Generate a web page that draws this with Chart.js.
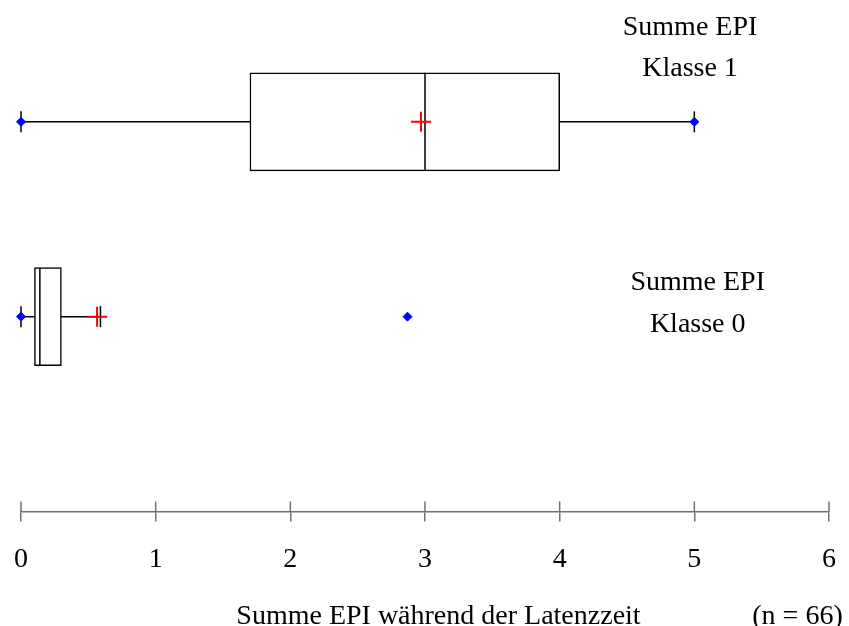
<!DOCTYPE html>
<html>
<head>
<meta charset="utf-8">
<script src="https://cdn.jsdelivr.net/npm/chart.js@4/dist/chart.umd.min.js"></script>
<style>
    html, body { margin: 0; padding: 0; background: #fff; }
    #wrap { width: 849px; height: 626px; position: relative; }
</style>
</head>
<body>
<div id="wrap"><canvas id="box-chart"></canvas></div>
<script>
// Données
const categories = ['Klasse 1', 'Klasse 0'];
const rowLabels = [['Summe EPI', 'Klasse 1'], ['Summe EPI', 'Klasse 0']];
const rowPosition = [2, 1];
const whiskerLow = [0, 0];
const q1 = [1.7, 0.1];
const median = [3.0, 0.14];
const q3 = [4.0, 0.3];
const whiskerHigh = [5, 0.59];
const mean = [2.97, 0.565];
const minValue = [0, 0];
const maxValue = [5, 2.87];
const xTicks = [0, 1, 2, 3, 4, 5, 6];
const axisTitle = 'Summe EPI während der Latenzzeit';
const sampleNote = '(n = 66)';

const FONT = '"Liberation Serif", "Times New Roman", serif';
const AXIS_COLOR = '#707070';

// Petites marques au-dessus de l'axe + textes libres
const extrasPlugin = {
    id: 'extras',
    afterDraw(chart, args, opts) {
        const ctx = chart.ctx;
        const x = chart.scales.x;
        const y = chart.scales.y;

        ctx.save();
        ctx.strokeStyle = AXIS_COLOR;
        ctx.lineWidth = 1.5;
        x.ticks.forEach((t, i) => {
            const px = x.getPixelForTick(i);
            ctx.beginPath();
            ctx.moveTo(px, x.top - 10);
            ctx.lineTo(px, x.top);
            ctx.stroke();
        });

        ctx.fillStyle = '#000';
        ctx.font = '28px ' + FONT;
        ctx.textAlign = 'center';
        ctx.textBaseline = 'alphabetic';

        rowLabels.forEach((lines, i) => {
            const a = opts.labelAnchors[i];
            const px = x.getPixelForValue(a.x);
            const py = y.getPixelForValue(a.y);
            lines.forEach((line, j) => ctx.fillText(line, px, py + j * 41.5));
        });

        const base = chart.height - 2;
        ctx.fillText(axisTitle, x.getPixelForValue(opts.titleAt), base);
        ctx.fillText(sampleNote, x.getPixelForValue(opts.noteAt), base);
        ctx.restore();
    }
};

const at = (values) => categories.map((c, i) => ({ x: values[i], y: rowPosition[i] }));

const datasets = [
    // moustaches
    ...categories.map((c, i) => ({
        type: 'line',
        data: [{ x: whiskerLow[i], y: rowPosition[i] }, { x: whiskerHigh[i], y: rowPosition[i] }],
        borderColor: '#000',
        borderWidth: 1.5,
        pointRadius: 0,
        clip: false,
        order: 6
    })),
    // boîtes
    {
        type: 'bar',
        indexAxis: 'y',
        data: categories.map((c, i) => ({ x: [q1[i], q3[i]], y: rowPosition[i] })),
        backgroundColor: '#fff',
        borderColor: '#000',
        borderWidth: 1.5,
        borderSkipped: false,
        barThickness: 98,
        clip: false,
        order: 5
    },
    // médianes
    {
        type: 'scatter',
        data: at(median),
        pointStyle: 'line',
        rotation: 90,
        pointRadius: 49,
        borderColor: '#000',
        borderWidth: 1.5,
        clip: false,
        order: 4
    },
    // extrémités des moustaches
    {
        type: 'scatter',
        data: [...at(whiskerLow), ...at(whiskerHigh)],
        pointStyle: 'line',
        rotation: 90,
        pointRadius: 10.5,
        borderColor: '#000',
        borderWidth: 1.5,
        clip: false,
        order: 3
    },
    // minimum / maximum
    {
        type: 'scatter',
        data: [...at(minValue), ...at(maxValue)],
        pointStyle: 'rectRot',
        pointRadius: 4.5,
        backgroundColor: '#0000ff',
        borderColor: '#0000ff',
        borderWidth: 1,
        clip: false,
        order: 2
    },
    // moyennes
    {
        type: 'scatter',
        data: at(mean),
        pointStyle: 'cross',
        pointRadius: 10,
        borderColor: '#ff0000',
        borderWidth: 2,
        clip: false,
        order: 1
    }
];

new Chart(document.getElementById('box-chart'), {
    type: 'scatter',
    data: { datasets },
    options: {
        responsive: true,
        maintainAspectRatio: false,
        animation: false,
        events: [],
        layout: {
            autoPadding: false,
            padding: { top: 5, left: 21, right: 20, bottom: 29 }
        },
        plugins: {
            legend: { display: false },
            tooltip: { enabled: false },
            extras: {
                labelAnchors: [{ x: 4.968, y: 2.446 }, { x: 5.025, y: 1.136 }],
                titleAt: 3.1,
                noteAt: 5.766
            }
        },
        scales: {
            x: {
                type: 'linear',
                min: 0,
                max: 6,
                offset: false,
                afterBuildTicks: (scale) => { scale.ticks = xTicks.map(v => ({ value: v })); },
                // pas de marge latérale ajoutée pour les étiquettes
                afterFit: (scale) => { scale.paddingLeft = 0; scale.paddingRight = 0; },
                ticks: {
                    font: { family: FONT, size: 28 },
                    color: '#000',
                    padding: 21,
                    maxRotation: 0
                },
                grid: {
                    offset: false,
                    drawOnChartArea: false,
                    drawTicks: true,
                    tickLength: 10,
                    color: AXIS_COLOR,
                    lineWidth: 1.5
                },
                border: { display: true, color: AXIS_COLOR, width: 1.5 }
            },
            y: {
                type: 'linear',
                min: 0,
                max: 2.6,
                offset: false,
                grid: { offset: false },
                display: false
            }
        }
    },
    plugins: [extrasPlugin]
});
</script>
</body>
</html>
